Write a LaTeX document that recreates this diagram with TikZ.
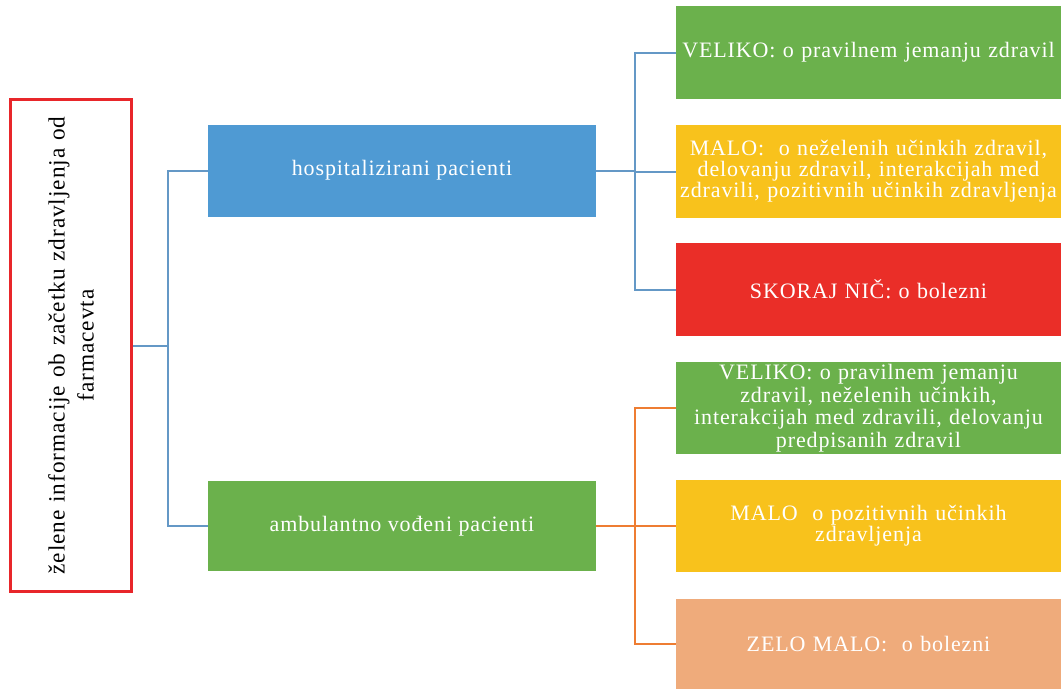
\documentclass[tikz,border=0pt]{standalone}
\usepackage{fontspec}
\setmainfont{Liberation Serif}[LetterSpace=4]
\definecolor{cBlue}{HTML}{4F9AD3}
\definecolor{cGreen}{HTML}{6BB14C}
\definecolor{cYellow}{HTML}{F8C21C}
\definecolor{cRed}{HTML}{EA2E28}
\definecolor{cPeach}{HTML}{EFAB7B}
\definecolor{cLineBlue}{HTML}{6498C6}
\definecolor{cLineOrange}{HTML}{EE7D32}
\definecolor{cBorder}{HTML}{E8262A}
\begin{document}
\begin{tikzpicture}[x=1pt,y=-1pt,
  box/.style={rectangle,inner sep=0pt,text=white,align=center,
    font=\fontsize{22}{21}\selectfont},
  midbox/.style={box,minimum width=388pt,minimum height=92pt},
  rbox/.style={box,minimum width=385pt,minimum height=92pt,text width=384pt},
  bconn/.style={draw=cLineBlue,line width=2pt},
  oconn/.style={draw=cLineOrange,line width=2pt}]
\useasboundingbox (0,0) rectangle (1061,689);
% root
\node[rectangle,draw=cBorder,line width=2.5pt,rotate=90,minimum width=492pt,
  minimum height=121pt,inner sep=0pt,align=center,text width=480pt,
  font=\fontsize{23.3}{29}\selectfont] (root) at (71,345.5)
  {želene informacije ob začetku zdravljenja od\\ farmacevta};
% middle
\node[midbox,fill=cBlue] (hosp) at (402,170.5) {hospitalizirani pacienti};
\node[midbox,fill=cGreen,minimum height=90pt] (amb) at (402,526) {ambulantno vođeni pacienti};
% right top
\node[rbox,fill=cGreen,minimum height=93pt] (v1) at (868.5,52.5) {VELIKO: o pravilnem jemanju zdravil};
\node[rbox,fill=cYellow,minimum height=93pt] (m1) at (868.5,171.5)
  {MALO:\ \ o neželenih učinkih zdravil,\\ delovanju zdravil, interakcijah med\\ zdravili, pozitivnih učinkih zdravljenja};
\node[rbox,fill=cRed,minimum height=93pt] (s1) at (868.5,289.5) {SKORAJ NIČ: o bolezni};
% right bottom
\node[rbox,fill=cGreen,font=\fontsize{22}{22.5}\selectfont] (v2) at (868.5,408)
  {VELIKO: o pravilnem jemanju\\ zdravil, neželenih učinkih,\\ interakcijah med zdravili, delovanju\\ predpisanih zdravil};
\node[rbox,fill=cYellow] (m2) at (868.5,526) {MALO\ \ o pozitivnih učinkih\\ zdravljenja};
\node[rbox,fill=cPeach,minimum height=90pt] (z2) at (868.5,644) {ZELO MALO:\ \ o bolezni};
% connectors
\draw[bconn] (hosp.west) -- ++(-40,0) |- (root.south);
\draw[bconn] (amb.west) -- ++(-40,0) |- (root.south);
\draw[bconn] (v1.west) -- ++(-41,0) |- (hosp.east);
\draw[bconn] (m1.west) -- ++(-41,0) |- (hosp.east);
\draw[bconn] (s1.west) -- ++(-41,0) |- (hosp.east);
\draw[oconn] (v2.west) -- ++(-41,0) |- (amb.east);
\draw[oconn] (m2.west) -- ++(-41,0) |- (amb.east);
\draw[oconn] (z2.west) -- ++(-41,0) |- (amb.east);
\end{tikzpicture}
\end{document}
